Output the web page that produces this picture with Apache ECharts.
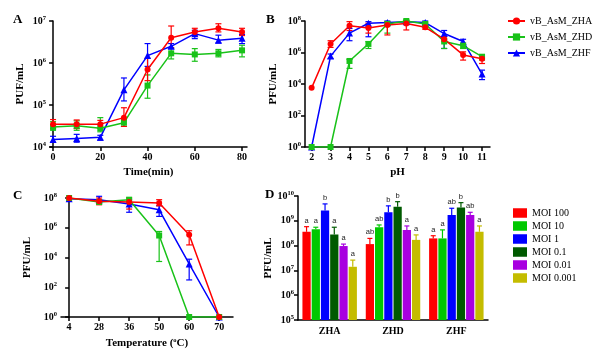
<!DOCTYPE html>
<html>
<head>
<meta charset="utf-8">
<script src="https://cdn.jsdelivr.net/npm/echarts@6/dist/echarts.min.js"></script>
<style>
html, body { margin: 0; padding: 0; background: #fff; }
#main { width: 599px; height: 352px; }
</style>
</head>
<body>
<div id="main"></div>
<script>
// strains (legend of A, B, C)
const STRAINS = ['vB_AsM_ZHA', 'vB_AsM_ZHD', 'vB_AsM_ZHF'];

// A: one-step growth, PFU/mL vs time
const timeMin = [0, 10, 20, 30, 40, 50, 60, 70, 80];
const growthZHA = [3.5e4, 3.5e4, 3.5e4, 5e4, 7e5, 4e6, 5.5e6, 6.7e6, 5.5e6];
const growthZHA_lo = [2.75e4, 2.75e4, 2.8e4, 3.1e4, 3.8e5, 2.3e6, 4.5e6, 5.5e6, 4.5e6];
const growthZHA_hi = [4.5e4, 4.4e4, 4.3e4, 8.6e4, 1.3e6, 7.6e6, 6.7e6, 8.6e6, 6.7e6];
const growthZHD = [3e4, 3.2e4, 2.8e4, 3.8e4, 2.9e5, 1.7e6, 1.6e6, 1.7e6, 2e6];
const growthZHD_lo = [2.5e4, 2.5e4, 2.3e4, 3.1e4, 1.45e5, 1.25e6, 1.1e6, 1.4e6, 1.4e6];
const growthZHD_hi = [4e4, 4.2e4, 5e4, 4.5e4, 5.2e5, 2.3e6, 2.2e6, 2.1e6, 2.65e6];
const growthZHF = [1.5e4, 1.6e4, 1.7e4, 2.3e5, 1.5e6, 2.5e6, 5e6, 3.5e6, 3.9e6];
const growthZHF_lo = [1.3e4, 1.3e4, 1.45e4, 1.25e5, 8.3e5, 2.2e6, 3.8e6, 3e6, 2.9e6];
const growthZHF_hi = [1.8e4, 2e4, 1.9e4, 4.4e5, 2.9e6, 2.9e6, 6e6, 4.6e6, 4.8e6];
const timeTicks = [0, 20, 40, 60, 80];

// B: pH stability
const pHs = [2, 3, 4, 5, 6, 7, 8, 9, 10, 11];
const phZHA = [5.7e3, 3.5e6, 5e7, 3.6e7, 5.6e7, 7e7, 4e7, 7e6, 7e5, 4e5];
const phZHA_lo = [null, 2.1e6, 2.5e7, 1.7e7, 1.3e7, 2.7e7, 3e7, 4.9e6, 3.3e5, 2e5];
const phZHA_hi = [null, 5.6e6, 9.1e7, 7.2e7, 9.1e7, 1.07e8, 5.4e7, 1e7, 1.1e6, 6e5];
const phZHD = [1, 1, 2.9e5, 3.5e6, 6.5e7, 1e8, 6.5e7, 5e6, 2.7e6, 5.4e5];
const phZHD_lo = [null, null, 9.8e4, 1.8e6, 1.7e7, 8e7, 4.5e7, 1.8e6, 1.8e6, 3.3e5];
const phZHD_hi = [null, null, 3.6e5, 4.9e6, 7.9e7, 1.2e8, 7.9e7, 7.9e6, 4e6, 6.9e5];
const phZHF = [1, 5.9e5, 1.7e7, 7.2e7, 7.9e7, 9e7, 7.9e7, 1.6e7, 5e6, 4.3e4];
const phZHF_lo = [null, 4.2e5, 5.6e6, 1e7, 6e7, 7.5e7, 6e7, 1.8e6, 3e6, 1.9e4];
const phZHF_hi = [null, 8e5, 3.4e7, 9.1e7, 1e8, 1.05e8, 1e8, 2.5e7, 6.9e6, 7.6e4];

// C: thermal stability
const temps = ['4', '28', '36', '50', '60', '70'];
const tempZHA = [1e8, 6e7, 5.4e7, 4.6e7, 3.4e5, 1];
const tempZHA_lo = [null, 3.5e7, 1.8e7, 3e7, 7e4, null];
const tempZHA_hi = [null, 1e8, 1e8, 7.7e7, 6.3e5, null];
const tempZHD = [1e8, 5.4e7, 7.7e7, 3e5, 1, 1];
const tempZHD_lo = [null, 4e7, null, 5.4e3, null, null];
const tempZHD_hi = [null, 7.7e7, null, 5.6e5, null, null];
const tempZHF = [9e7, 7.7e7, 4e7, 1.6e7, 3.7e3, 1];
const tempZHF_lo = [null, 4.6e7, 1.1e7, 5.8e6, 3.1e2, null];
const tempZHF_hi = [null, 1.3e8, 7.7e7, 3e7, 7.7e3, null];

// D: MOI titres per phage
const phages = ['ZHA', 'ZHD', 'ZHF'];
const mois = ['MOI 100', 'MOI 10', 'MOI 1', 'MOI 0.1', 'MOI 0.01', 'MOI 0.001'];
const moi100 = [3.6e8, 1.15e8, 1.95e8];
const moi100_hi = [5.8e8, 1.95e8, 2.5e8];
const moi10 = [4.6e8, 5.5e8, 1.95e8];
const moi10_hi = [5.5e8, 6.8e8, 4.3e8];
const moi1 = [2.6e9, 2.2e9, 1.7e9];
const moi1_hi = [4.8e9, 4e9, 3.2e9];
const moi01 = [2.8e8, 3.7e9, 3.4e9];
const moi01_hi = [5.5e8, 5.9e9, 5.4e9];
const moi001 = [9.6e7, 4.3e8, 1.7e9];
const moi001_hi = [1.15e8, 6.2e8, 2.2e9];
const moi0001 = [1.4e7, 1.7e8, 3.6e8];
const moi0001_hi = [2.6e7, 2.7e8, 6.2e8];
const letters100 = ['a', 'ab', 'a'];
const letters10 = ['a', 'ab', 'a'];
const letters1 = ['b', 'b', 'ab'];
const letters01 = ['a', 'b', 'b'];
const letters001 = ['a', 'a', 'ab'];
const letters0001 = ['a', 'a', 'a'];

const RED = '#ff0000', GREEN = '#19c219', BLUE = '#0000ff';
const MOI_COLORS = ['#ff0000', '#00c800', '#0000ff', '#005a00', '#a800e0', '#c4bc00'];
const SERIF = 'Liberation Serif';

const chart = echarts.init(document.getElementById('main'));

const tickText = { fontFamily: SERIF, fontWeight: 'bold', fontSize: 10, color: '#000' };
const supStyle = { sup: { fontFamily: SERIF, fontWeight: 'bold', fontSize: 6.5, color: '#000', padding: [0, 0, 6, 0] } };

function logLabel(v) {
    return '10{sup|' + Math.round(Math.log10(v)) + '}';
}

function xAxisValue(gi, min, max, ticks, name, fmt) {
    return {
        type: 'value', gridIndex: gi, min: min, max: max,
        splitLine: { show: false },
        axisLine: { lineStyle: { color: '#000', width: 1.5 } },
        axisTick: { customValues: ticks, length: 4, lineStyle: { width: 1.5, color: '#000' } },
        axisLabel: Object.assign({ customValues: ticks, margin: 5, formatter: fmt }, tickText),
        name: name, nameLocation: 'middle', nameGap: 20,
        nameTextStyle: Object.assign({ rich: supStyle }, tickText, { fontSize: 11 })
    };
}

function yAxisLog(gi, min, max, step, gap) {
    return {
        type: 'log', logBase: 10, gridIndex: gi, min: min, max: max, interval: step,
        splitLine: { show: false },
        minorTick: { show: false },
        axisLine: { show: true, lineStyle: { color: '#000', width: 1.5 } },
        axisTick: { show: true, length: 4, lineStyle: { width: 1.5, color: '#000' } },
        axisLabel: Object.assign({ margin: 4, formatter: logLabel, rich: supStyle }, tickText),
        name: 'PFU/mL', nameLocation: 'middle', nameGap: gap, nameRotate: 90,
        nameTextStyle: Object.assign({}, tickText, { fontSize: 11 })
    };
}

function errorBarItem(params, api) {
    const x = api.value(0);
    const lo = api.coord([x, api.value(1)]);
    const hi = api.coord([x, api.value(2)]);
    const w = 3;
    const style = { stroke: api.visual('color'), lineWidth: 1.2 };
    return {
        type: 'group',
        children: [
            { type: 'line', shape: { x1: lo[0], y1: lo[1], x2: hi[0], y2: hi[1] }, style: style },
            { type: 'line', shape: { x1: lo[0] - w, y1: lo[1], x2: lo[0] + w, y2: lo[1] }, style: style },
            { type: 'line', shape: { x1: hi[0] - w, y1: hi[1], x2: hi[0] + w, y2: hi[1] }, style: style }
        ]
    };
}

function pairs(xs, ys) {
    return xs.map((x, i) => [x, ys[i]]);
}

function errData(xs, lo, hi) {
    return xs.map((x, i) => [x, lo[i], hi[i]]).filter(d => d[1] != null);
}

function lineSeries(name, gi, data, color, symbol) {
    return {
        name: name, type: 'line', xAxisIndex: gi, yAxisIndex: gi, data: data,
        symbol: symbol, symbolSize: symbol === 'triangle' ? 7 : 6,
        lineStyle: { color: color, width: 1.5 }, itemStyle: { color: color },
        z: 3
    };
}

function errSeries(gi, data, color) {
    return {
        name: 'err', type: 'custom', xAxisIndex: gi, yAxisIndex: gi, data: data,
        renderItem: errorBarItem, itemStyle: { color: color },
        encode: { x: 0, y: [1, 2] }, z: 2, silent: true
    };
}

const series = [];
// panels A, B, C: blue first, then green, red on top
const panels = [
    { gi: 0, xs: timeMin, sets: [[growthZHF, growthZHF_lo, growthZHF_hi], [growthZHD, growthZHD_lo, growthZHD_hi], [growthZHA, growthZHA_lo, growthZHA_hi]] },
    { gi: 1, xs: pHs, sets: [[phZHF, phZHF_lo, phZHF_hi], [phZHD, phZHD_lo, phZHD_hi], [phZHA, phZHA_lo, phZHA_hi]] },
    { gi: 2, xs: temps.map((t, i) => i), sets: [[tempZHF, tempZHF_lo, tempZHF_hi], [tempZHD, tempZHD_lo, tempZHD_hi], [tempZHA, tempZHA_lo, tempZHA_hi]] }
];
const strainOrder = [2, 1, 0];
const strainColors = [RED, GREEN, BLUE];
const strainSymbols = ['circle', 'rect', 'triangle'];
panels.forEach(p => {
    p.sets.forEach((s, k) => {
        const si = strainOrder[k];
        series.push(errSeries(p.gi, errData(p.xs, s[1], s[2]), strainColors[si]));
        series.push(lineSeries(STRAINS[si], p.gi, pairs(p.xs, s[0]), strainColors[si], strainSymbols[si]));
    });
});

// panel D bars
const moiValues = [moi100, moi10, moi1, moi01, moi001, moi0001];
const moiHigh = [moi100_hi, moi10_hi, moi1_hi, moi01_hi, moi001_hi, moi0001_hi];
const moiLetters = [letters100, letters10, letters1, letters01, letters001, letters0001];
const CAT_GAP = 0.14, BAR_GAP = 0.12;

moiValues.forEach((vals, k) => {
    series.push({
        name: mois[k], type: 'bar', xAxisIndex: 3, yAxisIndex: 3, data: vals,
        itemStyle: { color: MOI_COLORS[k] },
        barGap: (BAR_GAP * 100) + '%', barCategoryGap: (CAT_GAP * 100) + '%'
    });
});
moiValues.forEach((vals, k) => {
    series.push({
        name: 'err', type: 'custom', xAxisIndex: 3, yAxisIndex: 3,
        data: vals.map((v, i) => [i, v, moiHigh[k][i], moiLetters[k][i]]),
        itemStyle: { color: MOI_COLORS[k] }, silent: true, z: 4,
        renderItem: function (params, api) {
            const i = api.value(0);
            const band = api.size([1, 0])[0];
            const n = mois.length;
            const bw = band * (1 - CAT_GAP) / (n + (n - 1) * BAR_GAP);
            const off = -band * (1 - CAT_GAP) / 2 + k * bw * (1 + BAR_GAP) + bw / 2;
            const top = api.coord([i, api.value(1)]);
            const hi = api.coord([i, api.value(2)]);
            const x = top[0] + off;
            const style = { stroke: api.visual('color'), lineWidth: 1.2 };
            return {
                type: 'group',
                children: [
                    { type: 'line', shape: { x1: x, y1: top[1], x2: x, y2: hi[1] }, style: style },
                    { type: 'line', shape: { x1: x - 2.5, y1: hi[1], x2: x + 2.5, y2: hi[1] }, style: style },
                    { type: 'text', x: x, y: hi[1] - 2, style: {
                        text: moiLetters[k][i], fill: '#222', fontSize: 7.5,
                        fontFamily: 'Liberation Sans', align: 'center', verticalAlign: 'bottom' } }
                ]
            };
        }
    });
});

const option = {
    backgroundColor: '#fff',
    animation: false,
    grid: [
        { left: 50, top: 21, width: 197, height: 126 },
        { left: 305, top: 21, width: 185, height: 126 },
        { left: 61, top: 198, width: 172, height: 119 },
        { left: 298, top: 196, width: 190, height: 124 }
    ],
    xAxis: [
        xAxisValue(0, -1.3, 82.1, timeTicks, 'Time(min)'),
        xAxisValue(1, 1.65, 11.42, pHs, 'pH'),
        xAxisValue(2, -0.27, 5.46, temps.map((t, i) => i), 'Temperature ({sup|o}C)', v => temps[v]),
        {
            type: 'category', gridIndex: 3, data: phages,
            axisLine: { lineStyle: { color: '#000', width: 1.5 } },
            axisTick: { alignWithLabel: true, length: 4, lineStyle: { width: 1.5, color: '#000' } },
            axisLabel: Object.assign({ margin: 6 }, tickText)
        }
    ],
    yAxis: [
        Object.assign(yAxisLog(0, 1e4, 1e7, 1, 24), { name: 'PUF/mL' }),
        yAxisLog(1, 1, 1e8, 2, 26),
        yAxisLog(2, 1, 1e8, 2, 28),
        yAxisLog(3, 1e5, 1e10, 1, 21)
    ],
    legend: [
        {
            data: STRAINS, orient: 'vertical', left: 502, top: 11, itemGap: 6,
            itemWidth: 17, itemHeight: 9,
            textStyle: { fontFamily: SERIF, fontSize: 10, color: '#000' }
        },
        {
            data: mois, orient: 'vertical', left: 508, top: 203, itemGap: 3,
            icon: 'rect', itemWidth: 14, itemHeight: 9.5,
            textStyle: { fontFamily: SERIF, fontSize: 10, color: '#000' }
        }
    ],
    graphic: [
        { type: 'text', left: 13, top: 13, style: { text: 'A', fontFamily: SERIF, fontWeight: 'bold', fontSize: 13, fill: '#000' } },
        { type: 'text', left: 266, top: 13, style: { text: 'B', fontFamily: SERIF, fontWeight: 'bold', fontSize: 13, fill: '#000' } },
        { type: 'text', left: 13, top: 189, style: { text: 'C', fontFamily: SERIF, fontWeight: 'bold', fontSize: 13, fill: '#000' } },
        { type: 'text', left: 265, top: 188, style: { text: 'D', fontFamily: SERIF, fontWeight: 'bold', fontSize: 13, fill: '#000' } }
    ],
    series: series
};

chart.setOption(option);
</script>
</body>
</html>
